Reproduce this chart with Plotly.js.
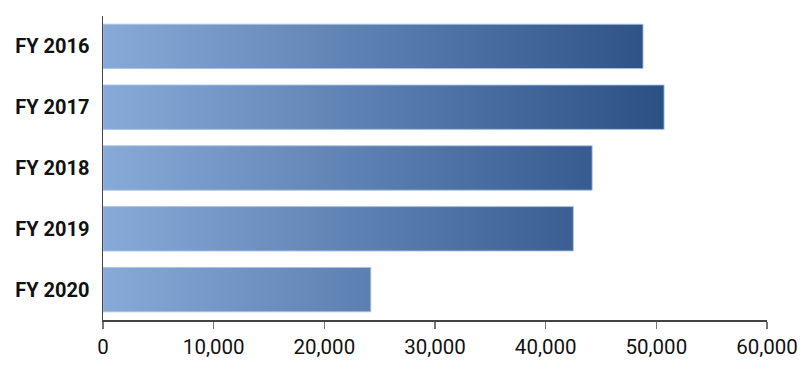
<!DOCTYPE html>
<html>
<head>
<meta charset="utf-8">
<script src="https://cdn.plot.ly/plotly-3.0.1.min.js"></script>
<style>html,body{margin:0;padding:0;background:#fff;}#chart{width:810px;height:378px;}</style>
</head>
<body>
<div id="chart"></div>
<script>
const categories = ["FY 2016", "FY 2017", "FY 2018", "FY 2019", "FY 2020"];
const values = [48800, 50700, 44200, 42500, 24200];
const xTickValues = [0, 10000, 20000, 30000, 40000, 50000, 60000];
const xTickLabels = ["0", "10,000", "20,000", "30,000", "40,000", "50,000", "60,000"];

const half = 0.365;
const traces = categories.map((c, i) => {
  const pos = i;
  return {
    type: 'scatter',
    mode: 'lines',
    x: [0, values[i], values[i], 0, 0],
    y: [pos - half, pos - half, pos + half, pos + half, pos - half],
    fill: 'toself',
    fillgradient: {
      type: 'horizontal',
      colorscale: [[0, '#88aad9'], [1, '#2b5084']],
      start: 0,
      stop: Math.max(...values)
    },
    line: {color: 'rgba(170,195,228,0.9)', width: 1},
    hoverinfo: 'skip',
    showlegend: false,
    name: c
  };
});

const layout = {
  width: 810, height: 378,
  margin: {l: 102.5, r: 42.5, t: 16, b: 58},
  paper_bgcolor: '#fff', plot_bgcolor: '#fff',
  font: {family: 'Roboto, sans-serif', color: '#111'},
  xaxis: {
    range: [0, 60000], tickvals: xTickValues, ticktext: xTickLabels,
    showgrid: false, zeroline: false, showline: true, linecolor: '#444', linewidth: 1.5,
    ticks: 'outside', ticklen: 7, tickcolor: '#777', tickwidth: 1.5,
    ticklabelstandoff: 1,
    tickfont: {size: 20.5, color: '#111'}, fixedrange: true
  },
  yaxis: {
    range: [4.5, -0.5], tickvals: categories.map((c, i) => i), ticktext: categories,
    showgrid: false, zeroline: false, showline: true, linecolor: '#444', linewidth: 1.5,
    ticks: '', ticklabelstandoff: 8,
    tickfont: {size: 20, color: '#111', weight: 'bold'}, fixedrange: true
  }
};

Plotly.newPlot('chart', traces, layout, {displayModeBar: false, staticPlot: true});
</script>
</body>
</html>
